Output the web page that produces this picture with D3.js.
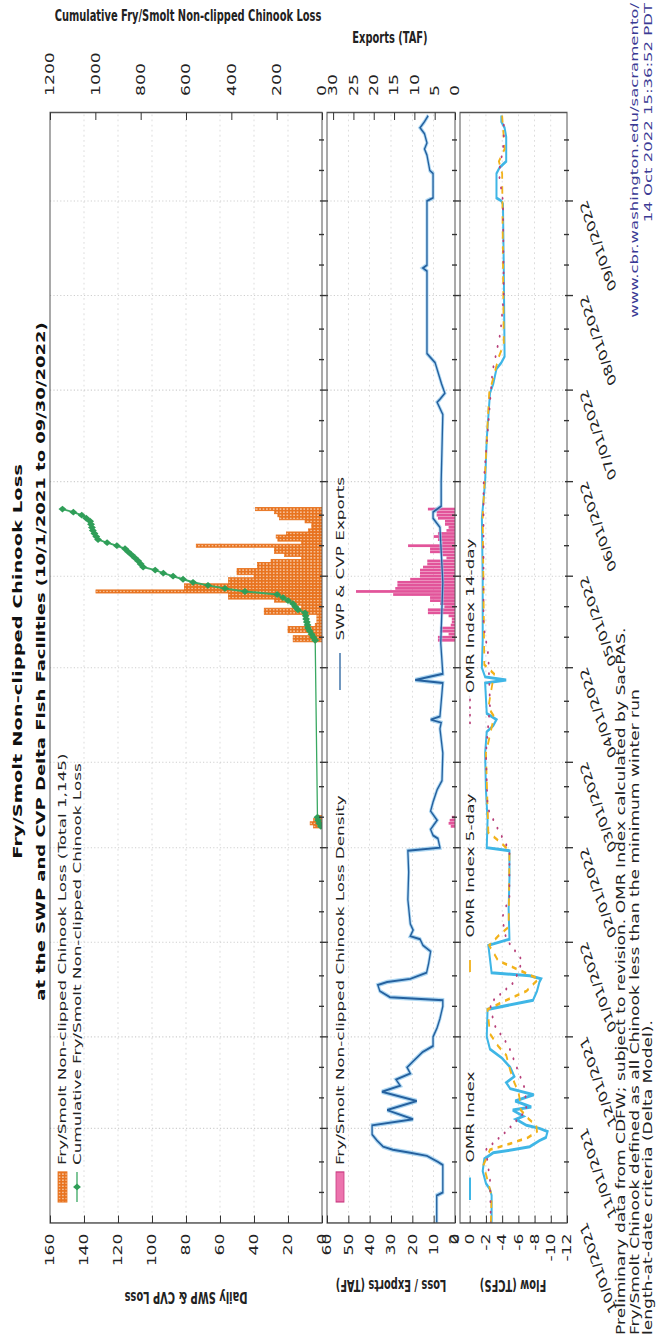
<!DOCTYPE html>
<html>
<head>
<meta charset="utf-8">
<script src="https://cdn.jsdelivr.net/npm/d3@7"></script>
<style>
  body { margin: 0; background: #fff; }
  svg { display: block; }
</style>
</head>
<body>
<div id="chart"></div>
<script>
// ---------- data ----------
var monthTicks = ["2021-10-01","2021-11-01","2021-12-01","2022-01-01","2022-02-01","2022-03-01",
                  "2022-04-01","2022-05-01","2022-06-01","2022-07-01","2022-08-01","2022-09-01"];
var lossTicks = [0, 20, 40, 60, 80, 100, 120, 140, 160];
var cumTicks = [0, 200, 400, 600, 800, 1000, 1200];
var densityTicks = [0, 10, 20, 30, 40, 50, 60];
var exportTicks = [0, 5, 10, 15, 20, 25, 30];
var flowTicks = [-12, -10, -8, -6, -4, -2, 0, 2];

// daily fry/smolt non-clipped chinook loss (SWP + CVP)
var dailyLoss = [
  ["2022-02-08",5],["2022-02-09",7],["2022-02-10",5],["2022-02-11",3],
  ["2022-04-10",17],["2022-04-11",17],["2022-04-12",6],["2022-04-13",20],["2022-04-14",20],
  ["2022-04-15",4],["2022-04-16",3],["2022-04-17",3],["2022-04-18",3],["2022-04-19",34],
  ["2022-04-20",34],["2022-04-21",12],["2022-04-22",16],["2022-04-23",28],["2022-04-24",55],
  ["2022-04-25",55],["2022-04-26",133],["2022-04-27",81],["2022-04-28",81],["2022-04-29",55],
  ["2022-04-30",55],["2022-05-01",40],["2022-05-02",50],["2022-05-03",50],["2022-05-04",38],
  ["2022-05-05",38],["2022-05-06",30],["2022-05-07",12],["2022-05-08",22],["2022-05-09",28],
  ["2022-05-10",28],["2022-05-11",74],["2022-05-12",12],["2022-05-13",26],["2022-05-14",27],
  ["2022-05-15",21],["2022-05-16",8],["2022-05-17",6],["2022-05-18",6],["2022-05-19",10],
  ["2022-05-20",25],["2022-05-21",26],["2022-05-22",28],["2022-05-23",39]
];

var cumulativeLoss = [
  ["2022-02-08",5],["2022-02-09",12],["2022-02-10",17],["2022-02-11",20],
  ["2022-04-10",30],["2022-04-11",38],["2022-04-12",46],["2022-04-13",54],["2022-04-14",62],
  ["2022-04-15",64],["2022-04-16",67],["2022-04-17",70],["2022-04-18",72],["2022-04-19",75],
  ["2022-04-20",106],["2022-04-21",118],["2022-04-22",128],["2022-04-23",150],["2022-04-24",172],
  ["2022-04-25",198],["2022-04-26",340],["2022-04-27",428],["2022-04-28",503],["2022-04-29",569],
  ["2022-04-30",613],["2022-05-01",657],["2022-05-02",700],["2022-05-03",736],["2022-05-04",789],
  ["2022-05-05",800],["2022-05-06",811],["2022-05-07",825],["2022-05-08",840],["2022-05-09",855],
  ["2022-05-10",869],["2022-05-11",905],["2022-05-12",948],["2022-05-13",988],["2022-05-14",996],
  ["2022-05-15",1004],["2022-05-16",1011],["2022-05-17",1015],["2022-05-18",1019],["2022-05-19",1023],
  ["2022-05-20",1040],["2022-05-21",1060],["2022-05-22",1097],["2022-05-23",1145]
];

// loss / exports (TAF)
var lossDensity = [
  ["2022-02-08",2],["2022-02-09",3],["2022-02-10",2.5],["2022-02-11",1.5],
  ["2022-04-10",8],["2022-04-11",8],["2022-04-12",3],["2022-04-13",7],["2022-04-14",7],
  ["2022-04-15",2],["2022-04-16",1.5],["2022-04-17",1.5],["2022-04-18",3],["2022-04-19",12.7],
  ["2022-04-20",12.7],["2022-04-21",5],["2022-04-22",7],["2022-04-23",11.7],["2022-04-24",11.7],
  ["2022-04-25",29],["2022-04-26",46.4],["2022-04-27",28],["2022-04-28",27],["2022-04-29",27],
  ["2022-04-30",21],["2022-05-01",16.4],["2022-05-02",16.4],["2022-05-03",16.4],["2022-05-04",15],
  ["2022-05-05",13],["2022-05-06",13],["2022-05-07",4],["2022-05-08",6],["2022-05-09",11.7],
  ["2022-05-10",11.7],["2022-05-11",22],["2022-05-12",6],["2022-05-13",8],["2022-05-14",10],
  ["2022-05-15",8],["2022-05-16",4],["2022-05-17",3],["2022-05-18",4.7],["2022-05-19",4.7],
  ["2022-05-20",8],["2022-05-21",8.6],["2022-05-22",8.6],["2022-05-23",12.7]
];

// SWP & CVP exports (TAF)
var exportsTAF = [
  ["2021-10-01",4.5],["2021-10-10",4.5],["2021-10-11",3.0],["2021-10-20",3.0],["2021-10-21",4.2],
  ["2021-10-23",6.9],["2021-10-24",11.0],["2021-10-25",15.3],["2021-10-26",17.7],["2021-10-28",19.2],
  ["2021-10-30",20.4],["2021-11-02",20.4],["2021-11-04",10.3],["2021-11-07",16.7],["2021-11-10",9.4],
  ["2021-11-13",18.0],["2021-11-15",13.5],["2021-11-17",14.5],["2021-11-19",11.0],["2021-11-21",11.8],
  ["2021-11-23",10.3],["2021-11-26",8.0],["2021-11-28",5.4],["2021-12-01",5.4],["2021-12-04",4.4],
  ["2021-12-07",3.7],["2021-12-11",3.0],["2021-12-13",3.0],["2021-12-14",16.0],["2021-12-16",18.5],
  ["2021-12-18",19.0],["2021-12-19",16.7],["2021-12-20",11.0],["2021-12-22",7.0],["2021-12-25",6.5],
  ["2021-12-29",6.0],["2021-12-31",7.9],["2022-01-02",8.6],["2022-01-03",11.0],["2022-01-05",10.3],
  ["2022-01-07",11.0],["2022-01-15",11.6],["2022-01-24",11.4],["2022-01-31",11.6],["2022-02-01",3.7],
  ["2022-02-04",4.2],["2022-02-05",5.4],["2022-02-07",6.0],["2022-02-10",4.4],["2022-02-13",6.0],
  ["2022-02-16",5.4],["2022-02-20",4.4],["2022-02-23",3.2],["2022-03-04",3.0],["2022-03-12",3.7],
  ["2022-03-14",3.4],["2022-03-15",6.0],["2022-03-16",3.7],["2022-03-27",3.0],["2022-03-28",9.8],
  ["2022-03-30",3.0],["2022-04-09",3.5],["2022-04-29",3.0],["2022-05-17",3.7],["2022-05-20",5.4],
  ["2022-05-22",5.4],["2022-05-24",3.4],["2022-06-01",3.4],["2022-06-23",3.0],["2022-06-27",4.4],
  ["2022-06-28",3.7],["2022-06-30",2.5],["2022-07-03",3.3],["2022-07-10",4.9],["2022-07-13",6.9],
  ["2022-08-09",6.9],["2022-08-10",7.9],["2022-08-11",6.9],["2022-09-01",6.9],["2022-09-02",5.4],
  ["2022-09-10",5.4],["2022-09-11",6.2],["2022-09-16",6.9],["2022-09-18",7.5],["2022-09-20",6.9],
  ["2022-09-23",7.5],["2022-09-25",8.6],["2022-09-27",7.5],["2022-09-29",6.6]
];

// OMR flow (TCFS)
var omrIndex = [
  ["2021-10-01",-2.7],["2021-10-10",-2.7],["2021-10-12",-2.5],["2021-10-14",-2.0],["2021-10-18",-1.6],
  ["2021-10-22",-1.8],["2021-10-24",-2.9],["2021-10-25",-5.3],["2021-10-26",-7.4],["2021-10-28",-8.6],
  ["2021-10-29",-9.4],["2021-10-31",-9.6],["2021-11-01",-8.6],["2021-11-02",-7.0],["2021-11-04",-5.7],
  ["2021-11-05",-6.6],["2021-11-07",-5.3],["2021-11-08",-7.6],["2021-11-10",-5.6],["2021-11-12",-7.9],
  ["2021-11-14",-5.0],["2021-11-16",-4.5],["2021-11-18",-5.5],["2021-11-21",-5.0],["2021-11-24",-4.0],
  ["2021-11-27",-2.5],["2021-12-01",-2.1],["2021-12-10",-2.2],["2021-12-13",-7.8],["2021-12-16",-8.3],
  ["2021-12-19",-8.6],["2021-12-20",-8.8],["2021-12-21",-7.4],["2021-12-22",-2.7],["2021-12-31",-2.3],
  ["2022-01-02",-4.9],["2022-01-12",-4.8],["2022-01-22",-4.9],["2022-01-31",-4.9],["2022-02-01",-2.1],
  ["2022-02-10",-2.2],["2022-02-20",-2.0],["2022-03-04",-1.9],["2022-03-11",-2.1],["2022-03-13",-2.9],
  ["2022-03-15",-3.3],["2022-03-17",-2.1],["2022-03-27",-1.9],["2022-03-28",-4.5],["2022-03-29",-1.9],
  ["2022-04-01",-1.5],["2022-04-10",-1.6],["2022-04-30",-1.6],["2022-05-20",-1.5],["2022-06-01",-1.9],
  ["2022-06-15",-2.1],["2022-06-30",-2.5],["2022-07-03",-2.9],["2022-07-08",-3.3],["2022-07-10",-3.9],
  ["2022-07-12",-4.3],["2022-08-10",-4.2],["2022-08-31",-4.1],["2022-09-01",-3.9],["2022-09-02",-3.3],
  ["2022-09-10",-3.3],["2022-09-12",-3.7],["2022-09-14",-4.5],["2022-09-22",-4.5],["2022-09-25",-4.3],
  ["2022-09-27",-3.9],["2022-09-29",-3.9]
];

var omr5day = [
  ["2021-10-01",-2.6],["2021-10-10",-2.7],["2021-10-15",-2.2],["2021-10-20",-1.7],["2021-10-25",-2.5],
  ["2021-10-27",-5.0],["2021-10-29",-7.2],["2021-10-31",-8.3],["2021-11-02",-8.2],["2021-11-04",-7.3],
  ["2021-11-07",-6.3],["2021-11-10",-6.2],["2021-11-13",-6.0],["2021-11-16",-5.5],["2021-11-20",-5.0],
  ["2021-11-25",-4.5],["2021-11-28",-3.5],["2021-12-02",-2.5],["2021-12-10",-2.2],["2021-12-13",-4.5],
  ["2021-12-16",-7.0],["2021-12-20",-8.5],["2021-12-23",-6.0],["2021-12-26",-3.5],["2021-12-31",-2.4],
  ["2022-01-03",-3.5],["2022-01-06",-4.8],["2022-01-31",-4.9],["2022-02-03",-3.7],["2022-02-06",-2.3],
  ["2022-03-04",-2.0],["2022-03-16",-3.0],["2022-03-19",-2.3],["2022-03-30",-3.0],["2022-04-02",-1.8],
  ["2022-05-20",-1.6],["2022-06-30",-2.4],["2022-07-12",-3.6],["2022-07-16",-4.2],["2022-09-10",-4.0],
  ["2022-09-14",-3.6],["2022-09-18",-4.3],["2022-09-29",-4.0]
];

var omr14day = [
  ["2021-10-01",-2.6],["2021-10-15",-2.5],["2021-10-25",-2.0],["2021-10-31",-4.5],["2021-11-07",-7.0],
  ["2021-11-14",-6.8],["2021-11-21",-5.8],["2021-11-28",-4.8],["2021-12-05",-3.0],["2021-12-12",-2.5],
  ["2021-12-19",-5.5],["2021-12-26",-6.5],["2022-01-02",-4.5],["2022-01-09",-4.0],["2022-01-16",-4.9],
  ["2022-01-31",-4.9],["2022-02-07",-3.5],["2022-02-14",-2.2],["2022-03-04",-2.0],["2022-03-20",-2.5],
  ["2022-04-05",-2.3],["2022-04-15",-1.7],["2022-05-31",-1.7],["2022-07-07",-2.8],["2022-07-20",-3.8],
  ["2022-08-01",-4.2],["2022-09-01",-4.1],["2022-09-10",-3.6],["2022-09-20",-4.2],["2022-09-29",-4.2]
];

// ---------- layout (chart is drawn landscape, then turned onto the page) ----------
var parse = d3.utcParse("%Y-%m-%d");
var fmt = d3.utcFormat("%m/%d/%Y");
var plain = function(d) { return String(d); };
var FONT = "DejaVu Sans, sans-serif";
var COND = "DejaVu Sans Condensed, DejaVu Sans, sans-serif";

var xLeft = 78.7, xRight = 819;
var pTop = {y0: 50, y1: 322}, pMid = {y0: 327, y1: 455}, pBot = {y0: 460, y1: 567};

var svg = d3.select("#chart").append("svg")
    .attr("width", 656)
    .attr("height", 1341);
svg.append("rect").attr("width", 656).attr("height", 1341).attr("fill", "#fff");

var g = svg.append("g")
    .attr("transform", "translate(0,1341) rotate(-90) scale(1.5,1)");

var x = d3.scaleUtc()
    .domain([parse("2021-10-01"), parse("2022-09-30")])
    .range([xLeft, xRight]);
var dayW = x(parse("2021-10-02")) - x(parse("2021-10-01"));

var yLoss = d3.scaleLinear().domain([0, 160]).range([pTop.y1, pTop.y0]);
var yCum = d3.scaleLinear().domain([0, 1200]).range([pTop.y1, pTop.y0]);
var yDen = d3.scaleLinear().domain([0, 60]).range([pMid.y1, pMid.y0]);
var yExp = d3.scaleLinear().domain([0, 31.5]).range([pMid.y1, pMid.y0]);
var yFlow = d3.scaleLinear().domain([-12, 1.2]).range([pBot.y1, pBot.y0]);

var months = monthTicks.map(parse);
var minorTicks = [];
months.forEach(function(m) {
  [10, 20].forEach(function(k) { minorTicks.push(d3.utcDay.offset(m, k)); });
});

var defs = svg.append("defs");
[["clipTop", pTop], ["clipMid", pMid], ["clipBot", pBot]].forEach(function(c) {
  defs.append("clipPath").attr("id", c[0]).append("rect")
      .attr("x", xLeft).attr("y", c[1].y0)
      .attr("width", xRight - xLeft).attr("height", c[1].y1 - c[1].y0);
});
var hatch = defs.append("pattern").attr("id", "hatch")
    .attr("patternUnits", "userSpaceOnUse")
    .attr("x", x(parse("2021-10-01")) - dayW / 2).attr("y", 0)
    .attr("width", dayW).attr("height", 3.4);
hatch.append("rect").attr("width", dayW).attr("height", 3.4).attr("fill", "#e8731f");
hatch.append("rect").attr("x", dayW * 0.3).attr("y", 1).attr("width", dayW * 0.4).attr("height", 1.4).attr("fill", "#fbe3cf");

// ---------- grid ----------
function grid(p, yScale, ticks) {
  var gg = g.append("g").attr("stroke", "#cfcfcf").attr("stroke-width", 0.7).attr("stroke-dasharray", "1.2,2.2");
  gg.selectAll(".gx").data(months.slice(1)).enter().append("line")
      .attr("x1", function(d) { return x(d); }).attr("x2", function(d) { return x(d); })
      .attr("y1", p.y0).attr("y2", p.y1);
  gg.selectAll(".gy").data(ticks.filter(function(t) {
        var v = yScale(t); return v > p.y0 + 1 && v < p.y1 - 1; }))
    .enter().append("line")
      .attr("x1", xLeft).attr("x2", xRight)
      .attr("y1", function(d) { return yScale(d); }).attr("y2", function(d) { return yScale(d); });
}
grid(pTop, yLoss, lossTicks);
grid(pMid, yDen, densityTicks);
grid(pBot, yFlow, flowTicks);

// ---------- top panel: daily loss bars + cumulative ----------
var topG = g.append("g").attr("clip-path", "url(#clipTop)");
topG.selectAll(".bar").data(dailyLoss).enter().append("rect")
    .attr("x", function(d) { return x(parse(d[0])) - dayW / 2; })
    .attr("width", dayW)
    .attr("y", function(d) { return yLoss(d[1]); })
    .attr("height", function(d) { return yLoss(0) - yLoss(d[1]); })
    .attr("fill", "url(#hatch)")
    .attr("stroke", "#e8731f")
    .attr("stroke-width", 0.6);

var cumLine = d3.line()
    .x(function(d) { return x(parse(d[0])); })
    .y(function(d) { return yCum(d[1]); });
topG.append("path").datum(cumulativeLoss)
    .attr("d", cumLine)
    .attr("fill", "none")
    .attr("stroke", "#3aa862")
    .attr("stroke-width", 1.3);
topG.selectAll(".mk").data(cumulativeLoss).enter().append("path")
    .attr("d", d3.symbol().type(d3.symbolDiamond).size(18))
    .attr("transform", function(d) { return "translate(" + x(parse(d[0])) + "," + yCum(d[1]) + ")"; })
    .attr("fill", "#2f9e58");

// ---------- middle panel: loss density bars + exports ----------
var midG = g.append("g").attr("clip-path", "url(#clipMid)");
midG.selectAll(".dbar").data(lossDensity).enter().append("rect")
    .attr("x", function(d) { return x(parse(d[0])) - dayW * 0.45; })
    .attr("width", dayW * 0.9)
    .attr("y", function(d) { return yDen(d[1]); })
    .attr("height", function(d) { return yDen(0) - yDen(d[1]); })
    .attr("fill", "#e2549a");

var expLine = d3.line()
    .x(function(d) { return x(parse(d[0])); })
    .y(function(d) { return yExp(d[1]); });
midG.append("path").datum(exportsTAF).attr("d", expLine)
    .attr("fill", "none").attr("stroke", "#8cc6ec").attr("stroke-width", 3).attr("stroke-opacity", 0.7);
midG.append("path").datum(exportsTAF).attr("d", expLine)
    .attr("fill", "none").attr("stroke", "#24609e").attr("stroke-width", 1.3);

// ---------- bottom panel: OMR ----------
var botG = g.append("g").attr("clip-path", "url(#clipBot)");
var flowLine = d3.line()
    .x(function(d) { return x(parse(d[0])); })
    .y(function(d) { return yFlow(d[1]); });
botG.append("path").datum(omrIndex).attr("d", flowLine)
    .attr("fill", "none").attr("stroke", "#3fb6e6").attr("stroke-width", 2);
botG.append("path").datum(omr5day).attr("d", flowLine)
    .attr("fill", "none").attr("stroke", "#f2b21a").attr("stroke-width", 1.8)
    .attr("stroke-dasharray", "5,5");
botG.append("path").datum(omr14day).attr("d", flowLine)
    .attr("fill", "none").attr("stroke", "#b8407a").attr("stroke-width", 1.8)
    .attr("stroke-linecap", "round").attr("stroke-dasharray", "0.1,7");

// ---------- borders and axes ----------
[pTop, pMid, pBot].forEach(function(p) {
  g.append("rect").attr("x", xLeft).attr("y", p.y0)
      .attr("width", xRight - xLeft).attr("height", p.y1 - p.y0)
      .attr("fill", "none").attr("stroke", "#555").attr("stroke-width", 1);
  var tk = g.append("g").attr("stroke", "#333").attr("stroke-width", 0.9);
  tk.selectAll(".mj").data(months.slice(1)).enter().append("line")
      .attr("x1", function(d) { return x(d); }).attr("x2", function(d) { return x(d); })
      .attr("y1", p.y1 - 2).attr("y2", p.y1 + 6);
  tk.selectAll(".mn").data(minorTicks).enter().append("line")
      .attr("x1", function(d) { return x(d); }).attr("x2", function(d) { return x(d); })
      .attr("y1", p.y1 - 3).attr("y2", p.y1 + 2);
});

function styleAxis(sel) {
  sel.select(".domain").remove();
  sel.attr("font-family", FONT).attr("font-size", 11.5);
  sel.selectAll("text").attr("fill", "#222");
  sel.selectAll("line").attr("stroke", "#333");
}
g.append("g").attr("transform", "translate(" + xLeft + ",0)")
    .call(d3.axisLeft(yLoss).tickValues(lossTicks).tickFormat(plain).tickSizeInner(-5).tickSizeOuter(0).tickPadding(7))
    .call(styleAxis);
g.append("g").attr("transform", "translate(" + xRight + ",0)")
    .call(d3.axisRight(yCum).tickValues(cumTicks).tickFormat(plain).tickSizeInner(-5).tickSizeOuter(0).tickPadding(11))
    .call(styleAxis);
g.append("g").attr("transform", "translate(" + xLeft + ",0)")
    .call(d3.axisLeft(yDen).tickValues(densityTicks).tickFormat(plain).tickSizeInner(-5).tickSizeOuter(0).tickPadding(7))
    .call(styleAxis);
g.append("g").attr("transform", "translate(" + xRight + ",0)")
    .call(d3.axisRight(yExp).tickValues(exportTicks).tickFormat(plain).tickSizeInner(-5).tickSizeOuter(0).tickPadding(11))
    .call(styleAxis);
var flowAxis = g.append("g").attr("transform", "translate(" + xLeft + ",0)")
    .call(d3.axisLeft(yFlow).tickValues(flowTicks).tickFormat(plain).tickSizeInner(-5).tickSizeOuter(0).tickPadding(7))
    .call(styleAxis);
flowAxis.selectAll(".tick").filter(function(d) { return d > 1.2; }).select("line").remove();

var dateAxis = g.append("g").attr("transform", "translate(0," + pBot.y1 + ")")
    .call(d3.axisBottom(x).tickValues(months).tickFormat(fmt).tickSize(0))
    .call(styleAxis);
dateAxis.selectAll("text")
    .attr("y", 0).attr("x", 0).attr("dy", "0.35em")
    .attr("transform", "translate(-1,16) rotate(-27)")
    .style("text-anchor", "end");

// ---------- text ----------
function label(txt, px, py, opts) {
  var t = g.append("text").attr("x", px).attr("y", py).text(txt)
      .attr("font-family", opts.family || FONT)
      .attr("font-size", opts.size || 11.2)
      .attr("font-weight", opts.weight || "normal")
      .attr("fill", opts.fill || "#222")
      .attr("text-anchor", opts.anchor || "start");
  if (opts.rotate) {
    t.attr("transform", "rotate(" + opts.rotate + "," + px + "," + py + ")").attr("dy", "0.35em");
  }
  return t;
}

label("Fry/Smolt Non-clipped Chinook Loss", 453, 22, {size: 13, weight: "bold", anchor: "middle", fill: "#111"});
label("at the SWP and CVP Delta Fish Facilities (10/1/2021 to 09/30/2022)", 453, 45, {size: 12, weight: "bold", anchor: "middle", fill: "#111"});

label("Daily SWP & CVP Loss", 28.7, 186, {family: COND, size: 11, weight: "bold", anchor: "middle", rotate: -90});
label("Loss / Exports (TAF)", 36.7, 391, {family: COND, size: 11, weight: "bold", anchor: "middle", rotate: -90});
label("Flow (TCFS)", 36.7, 513, {family: COND, size: 11, weight: "bold", anchor: "middle", rotate: -90});
label("Cumulative Fry/Smolt Non-clipped Chinook Loss", 884, 188, {family: COND, size: 11, weight: "bold", anchor: "middle", rotate: 90});
label("Exports (TAF)", 869, 390, {family: COND, size: 11, weight: "bold", anchor: "middle", rotate: 90});

// legends
g.append("rect").attr("x", 92.7).attr("y", 58).attr("width", 20).attr("height", 9)
    .attr("fill", "url(#hatch)").attr("stroke", "#e8731f").attr("stroke-width", 0.8);
label("Fry/Smolt Non-clipped Chinook Loss (Total 1,145)", 117.3, 66, {});
g.append("line").attr("x1", 92.7).attr("x2", 112.7).attr("y1", 77).attr("y2", 77)
    .attr("stroke", "#3aa862").attr("stroke-width", 1.3);
g.append("path").attr("d", d3.symbol().type(d3.symbolDiamond).size(18))
    .attr("transform", "translate(102.7,77)").attr("fill", "#2f9e58");
label("Cumulative Fry/Smolt Non-clipped Chinook Loss", 117.3, 81, {});

g.append("rect").attr("x", 92.7).attr("y", 336).attr("width", 20).attr("height", 8)
    .attr("fill", "#ec73ad").attr("stroke", "#c83a80").attr("stroke-width", 0.8);
label("Fry/Smolt Non-clipped Chinook Loss Density", 117.3, 344, {});
g.append("line").attr("x1", 434).attr("x2", 458.7).attr("y1", 340).attr("y2", 340)
    .attr("stroke", "#24609e").attr("stroke-width", 1.3);
label("SWP & CVP Exports", 467, 344, {});

g.append("line").attr("x1", 94).attr("x2", 109).attr("y1", 470).attr("y2", 470)
    .attr("stroke", "#3fb6e6").attr("stroke-width", 2);
label("OMR Index", 119, 474, {});
g.append("line").attr("x1", 246).attr("x2", 254).attr("y1", 470).attr("y2", 470)
    .attr("stroke", "#f2b21a").attr("stroke-width", 1.8);
label("OMR Index 5-day", 269, 474, {});
g.append("line").attr("x1", 412).attr("x2", 428).attr("y1", 470).attr("y2", 470)
    .attr("stroke", "#b8407a").attr("stroke-width", 1.8)
    .attr("stroke-linecap", "round").attr("stroke-dasharray", "0.1,5");
label("OMR Index 14-day", 432, 474, {});

// footer
label("Preliminary data from CDFW; subject to revision. OMR Index calculated by SacPAS.", 4, 625, {size: 11.4});
label("Fry/Smolt Chinook defined as all Chinook less than the minimum winter run", 4, 639, {size: 11.4});
label("length-at-date criteria (Delta Model).", 4, 652, {size: 11.4});
label("www.cbr.washington.edu/sacramento/", 892, 638, {size: 11, anchor: "end", fill: "#3a3a94"});
label("14 Oct 2022 15:36:52 PDT", 892, 652, {size: 11, anchor: "end", fill: "#3a3a94"});
</script>
</body>
</html>
